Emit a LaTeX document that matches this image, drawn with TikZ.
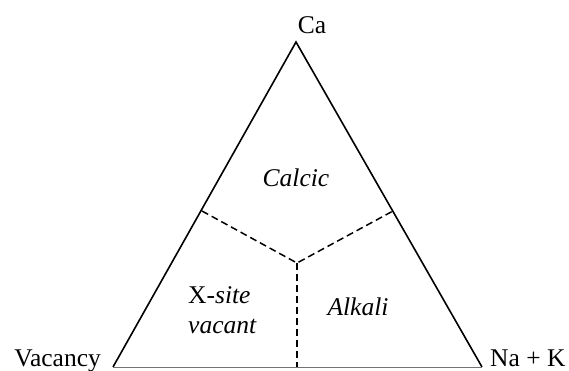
\documentclass[tikz,border=0pt]{standalone}
\usepackage{fontspec}
\setmainfont{Liberation Serif}
\begin{document}
\begin{tikzpicture}[x=1pt,y=-1pt,
  side/.style={line width=1.6pt,line join=miter},
  base line/.style={line width=1pt,draw=black!55},
  divider/.style={line width=1.5pt,dash pattern=on 7pt off 4pt},
  lbl/.style={inner sep=0pt,font=\fontsize{25.5}{30}\selectfont},
  field/.style={lbl,font=\fontsize{25.5}{30}\selectfont\itshape}]
\useasboundingbox (0,0) rectangle (569,370);
% vertices of the ternary diagram
\coordinate (ca) at (296,42);
\coordinate (vac) at (113,367);
\coordinate (nak) at (482,367);
% ends of the field boundaries
\coordinate (pl) at (202,211);
\coordinate (pr) at (393,211);
\coordinate (ctr) at (297,263);
\coordinate (pb) at (297,367);
% triangle
\draw[side] (vac) -- (ca) -- (nak);
\draw[base line] (vac) -- (nak);
% field boundaries
\draw[divider] (pl) -- (ctr) -- (pr);
\draw[divider] (ctr) -- (pb);
% corner labels
\node[lbl,anchor=base] (lca) at (312,33) {Ca};
\node[lbl,anchor=base east] (lvac) at (101,366) {Vacancy};
\node[lbl,anchor=base west] (lnak) at (490,366) {Na + K};
% field names
\node[field,anchor=base] (calcic) at (296,186) {Calcic};
\node[lbl,anchor=base west] (xsite) at (188,303) {X-\textit{site}};
\node[field,anchor=base west] (vacant) at (188,333) {vacant};
\node[field,anchor=base] (alkali) at (358,315) {Alkali};
\end{tikzpicture}
\end{document}
